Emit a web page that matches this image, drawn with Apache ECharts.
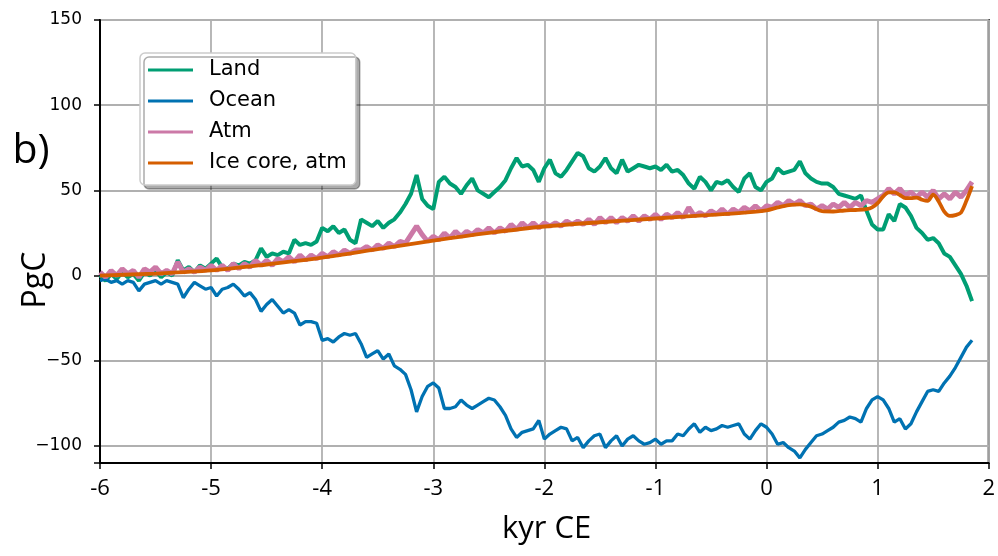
<!DOCTYPE html>
<html><head><meta charset="utf-8">
<script src="https://cdn.jsdelivr.net/npm/echarts@6/dist/echarts.min.js"></script>
<style>html,body{margin:0;padding:0;background:#fff}#c{width:998px;height:556px}</style>
</head><body><div id="c"></div>
<script>
const kyr = [
-6.00,-5.95,-5.90,-5.85,-5.80,-5.75,-5.70,-5.65,-5.60,-5.55,
-5.50,-5.45,-5.40,-5.35,-5.30,-5.25,-5.20,-5.15,-5.10,-5.05,
-5.00,-4.95,-4.90,-4.85,-4.80,-4.75,-4.70,-4.65,-4.60,-4.55,
-4.50,-4.45,-4.40,-4.35,-4.30,-4.25,-4.20,-4.15,-4.10,-4.05,
-4.00,-3.95,-3.90,-3.85,-3.80,-3.75,-3.70,-3.65,-3.60,-3.55,
-3.50,-3.45,-3.40,-3.35,-3.30,-3.25,-3.20,-3.15,-3.10,-3.05,
-3.00,-2.95,-2.90,-2.85,-2.80,-2.75,-2.70,-2.65,-2.60,-2.55,
-2.50,-2.45,-2.40,-2.35,-2.30,-2.25,-2.20,-2.15,-2.10,-2.05,
-2.00,-1.95,-1.90,-1.85,-1.80,-1.75,-1.70,-1.65,-1.60,-1.55,
-1.50,-1.45,-1.40,-1.35,-1.30,-1.25,-1.20,-1.15,-1.10,-1.05,
-1.00,-0.95,-0.90,-0.85,-0.80,-0.75,-0.70,-0.65,-0.60,-0.55,
-0.50,-0.45,-0.40,-0.35,-0.30,-0.25,-0.20,-0.15,-0.10,-0.05,
0.00,0.05,0.10,0.15,0.20,0.25,0.30,0.35,0.40,0.45,
0.50,0.55,0.60,0.65,0.70,0.75,0.80,0.85,0.90,0.95,
1.00,1.05,1.10,1.15,1.20,1.25,1.30,1.35,1.40,1.45,
1.50,1.55,1.60,1.65,1.70,1.75,1.80,1.85];

const land = [
0,-3,1,-2,2,-1,1,-3,2,0,
3,-1,2,0,9,3,5,2,6,4,
7,10,5,4,7,6,8,7,9,16,
11,13,12,14,13,21,18,19,18,20,
28,26,29,25,27,21,19,33,31,29,
32,28,31,33,37,42,48,59,45,41,
39,55,58,54,52,48,53,57,50,48,
46,49,52,56,63,69,64,65,62,55,
63,68,60,58,62,67,72,70,63,61,
64,69,63,60,68,61,63,65,64,63,
64,62,65,61,62,59,54,51,58,55,
50,55,54,56,52,49,57,60,52,50,
55,57,63,60,61,62,67,60,57,55,
54,54,52,48,47,46,45,47,38,30,
27,27,36,32,42,40,35,28,25,21,
22,19,13,11,6,1,-6,-15];

const ocean = [
-3,-2,-4,-3,-5,-3,-4,-9,-5,-4,
-3,-5,-3,-4,-5,-13,-8,-4,-6,-8,
-7,-12,-8,-7,-5,-8,-12,-10,-14,-21,
-17,-14,-18,-22,-20,-22,-29,-27,-27,-28,
-38,-37,-39,-36,-34,-35,-34,-40,-48,-46,
-44,-49,-46,-53,-55,-58,-67,-80,-71,-65,
-63,-66,-78,-78,-77,-73,-76,-78,-76,-74,
-72,-73,-77,-82,-90,-95,-92,-91,-90,-85,
-96,-93,-91,-89,-90,-97,-95,-101,-97,-94,
-93,-101,-97,-94,-100,-96,-94,-97,-99,-98,
-96,-99,-97,-97,-93,-94,-90,-87,-92,-89,
-91,-90,-88,-89,-88,-87,-93,-96,-91,-87,
-89,-93,-99,-98,-101,-103,-107,-102,-98,-94,
-93,-91,-89,-86,-85,-83,-84,-86,-78,-73,
-71,-73,-78,-86,-84,-90,-87,-80,-74,-68,
-67,-68,-63,-59,-54,-48,-42,-38];

const atm = [
2,-1,3,0,4,1,3,-1,4,2,
5,1,3,1,8,2,4,2,5,3,
6,3,6,3,7,4,7,5,9,6,
9,6,10,8,11,8,12,9,12,10,
13,11,14,12,15,13,15,15,17,15,
18,16,19,17,20,19,24,29,24,20,
23,21,25,22,26,23,26,24,27,25,
28,25,28,26,30,27,31,28,31,28,
31,29,31,29,32,30,32,30,33,30,
34,31,34,31,34,32,35,32,35,33,
36,33,36,34,37,34,40,35,37,35,
38,36,39,36,39,37,40,38,41,38,
41,40,43,41,44,42,44,41,42,39,
41,39,42,40,43,40,43,41,44,43,
45,47,51,48,51,47,49,46,49,46,
50,45,48,45,49,46,50,55];

const iceKyr = [-6.0,-5.5,-5.0,-4.5,-4.0,-3.5,-3.0,-2.5,-2.0,-1.5,-1.0,-0.5,-0.2,0.0,0.1,0.2,0.3,0.4,0.5,0.6,0.7,0.8,0.9,0.95,1.0,1.05,1.1,1.15,1.2,1.25,1.3,1.35,1.4,1.45,1.5,1.55,1.6,1.65,1.7,1.75,1.8,1.85];
const iceCore = [0,1.2,3.0,6.5,10.5,15.5,20.5,25.0,28.8,31.3,33.5,35.6,37.0,38.3,40.0,41.4,41.8,40.5,37.8,37.6,38.2,38.5,39.0,40.0,42.5,46.5,48.8,48.8,47.3,45.5,45.5,45.8,44.5,43.8,47.5,43.5,37.5,35.0,35.5,37.0,44.0,52.5];

const seriesNames = ['Land','Ocean','Atm','Ice core, atm'];
const seriesColors = ['#009E73','#0072B2','#CC79A7','#D55E00'];
const yTickStep = 50;

const pairs = (xs, ys) => xs.map((x, i) => [x, ys[i]]);

const chart = echarts.init(document.getElementById('c'), null, {renderer: 'canvas'});
const lineSeries = (name, data, color, width, smooth) => ({
  name, type: 'line', data, showSymbol: false, symbol: 'none',
  smooth: smooth || false, lineStyle: {color, width}, itemStyle: {color},
  emphasis: {disabled: true}, animation: false, z: 3
});

chart.setOption({
  animation: false,
  grid: {left: 100, right: 6, top: 20, bottom: 93, show: true, borderColor: '#000', borderWidth: 2, backgroundColor: 'transparent'},
  xAxis: {
    type: 'value', min: -6, max: 2, interval: 1,
    axisLine: {show: true, onZero: false, lineStyle: {color: '#000', width: 2}},
    axisTick: {show: true, inside: false, length: 6, lineStyle: {color: '#000', width: 1.5}},
    axisLabel: {color: '#000', fontFamily: 'Open Sans', fontSize: 22, margin: 15, formatter: v => String(v)},
    splitLine: {show: true, lineStyle: {color: '#b0b0b0', width: 1.8}}
  },
  yAxis: {
    type: 'value', min: -110, max: 150, splitNumber: 5,
    axisLine: {show: true, onZero: false, lineStyle: {color: '#000', width: 2}},
    axisTick: {show: true, inside: false, length: 6, lineStyle: {color: '#000', width: 1.5}},
    axisLabel: {color: '#000', fontFamily: 'DejaVu Sans', fontSize: 17, margin: 18,
      formatter: v => (v % yTickStep === 0 ? String(v).replace('-', '\u2212') : '')},
    splitLine: {show: true, lineStyle: {color: '#b0b0b0', width: 1.8}}
  },
  legend: {
    data: seriesNames, orient: 'vertical', left: 140, top: 53,
    icon: 'rect', itemWidth: 45, itemHeight: 3, itemGap: 7,
    padding: [5, 9, 10, 8],
    backgroundColor: '#fff', borderColor: '#cccccc', borderWidth: 1.5, borderRadius: 5,
    shadowColor: 'rgba(0,0,0,0.33)', shadowOffsetX: 4, shadowOffsetY: 4, shadowBlur: 0,
    textStyle: {color: '#000', fontFamily: 'DejaVu Sans', fontSize: 21, lineHeight: 24, padding: [0, 0, 0, 11]},
    selectedMode: false
  },
  graphic: [
    {type: 'text', left: 502, top: 514, style: {text: 'kyr CE', font: '31px "Open Sans"', fill: '#000'}},
    {type: 'text', x: 36, y: 280, rotation: Math.PI / 2, style: {text: 'PgC', font: '32px "Open Sans"', fill: '#000', align: 'center', verticalAlign: 'middle'}},
    {type: 'text', x: 31, y: 151, style: {text: 'b)', font: '41px "Open Sans"', fill: '#000', align: 'center', verticalAlign: 'middle'}}
  ],
  series: [
    lineSeries(seriesNames[0], pairs(kyr, land), seriesColors[0], 4),
    lineSeries(seriesNames[1], pairs(kyr, ocean), seriesColors[1], 3.3),
    lineSeries(seriesNames[2], pairs(kyr, atm), seriesColors[2], 5),
    lineSeries(seriesNames[3], pairs(iceKyr, iceCore), seriesColors[3], 3.8, 0.3)
  ]
});
</script></body></html>
